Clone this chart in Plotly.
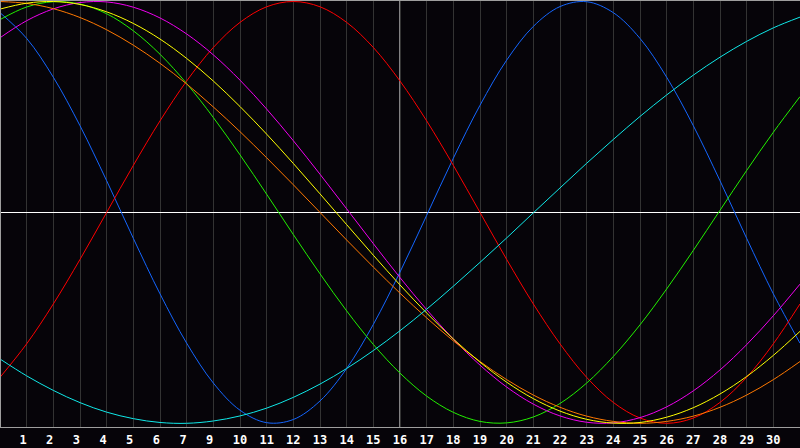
import plotly.graph_objects as go

# day slots across the chart (0..30), one gridline per slot
slots = list(range(31))
tick_slots = list(range(1, 30))
# date labels under the gridlines (the 8th is missing in the original)
day_labels = ["1", "2", "3", "4", "5", "6", "7", "9", "10", "11", "12", "13", "14", "15",
              "16", "17", "18", "19", "20", "21", "22", "23", "24", "25", "26", "27",
              "28", "29", "30"]
today_slot = 15

# cycle values, one per slot
physical = [0.947, 0.825, 0.641, 0.411, 0.150, -0.123, -0.386, -0.620, -0.809, -0.938,
            -0.997, -0.982, -0.894, -0.740, -0.531, -0.283, -0.014, 0.257, 0.508, 0.722,
            0.882, 0.976, 0.999, 0.947, 0.825, 0.641, 0.411, 0.150, -0.123, -0.386, -0.620]
emotional = [-0.782, -0.623, -0.434, -0.223, 0.0, 0.223, 0.434, 0.623, 0.782, 0.901,
             0.975, 1.0, 0.975, 0.901, 0.782, 0.623, 0.434, 0.223, 0.0, -0.223,
             -0.434, -0.623, -0.782, -0.901, -0.975, -1.0, -0.975, -0.901, -0.782, -0.623, -0.434]
intellectual = [0.914, 0.974, 0.999, 0.988, 0.942, 0.861, 0.750, 0.611, 0.450, 0.273,
                0.086, -0.105, -0.291, -0.467, -0.626, -0.762, -0.871, -0.948, -0.991, -0.998,
                -0.970, -0.906, -0.809, -0.683, -0.533, -0.363, -0.180, 0.010, 0.199, 0.380, 0.549]
intuitive = [0.828, 0.909, 0.965, 0.995, 0.998, 0.973, 0.922, 0.846, 0.747, 0.627,
             0.490, 0.340, 0.181, 0.017, -0.148, -0.309, -0.461, -0.601, -0.724, -0.828,
             -0.909, -0.965, -0.995, -0.998, -0.973, -0.922, -0.846, -0.747, -0.627, -0.490, -0.340]
aesthetic = [0.964, 0.992, 1.000, 0.986, 0.951, 0.896, 0.822, 0.730, 0.623, 0.502,
             0.371, 0.232, 0.088, -0.058, -0.203, -0.344, -0.477, -0.600, -0.710, -0.805,
             -0.883, -0.942, -0.981, -0.999, -0.996, -0.971, -0.926, -0.861, -0.778, -0.678, -0.564]
awareness = [1.000, 0.991, 0.966, 0.924, 0.866, 0.793, 0.707, 0.609, 0.500, 0.383,
             0.259, 0.131, 0.000, -0.131, -0.259, -0.383, -0.500, -0.609, -0.707, -0.793,
             -0.866, -0.924, -0.966, -0.991, -1.000, -0.991, -0.966, -0.924, -0.866, -0.793, -0.707]
spiritual = [-0.695, -0.775, -0.844, -0.902, -0.947, -0.978, -0.996, -1.000, -0.989, -0.965,
             -0.928, -0.877, -0.814, -0.740, -0.655, -0.561, -0.459, -0.350, -0.237, -0.121,
             -0.002, 0.116, 0.233, 0.346, 0.455, 0.557, 0.651, 0.736, 0.811, 0.875, 0.926]

series = [
    ("Physical", physical, "#1466ff"),
    ("Emotional", emotional, "#ff0000"),
    ("Intellectual", intellectual, "#22f000"),
    ("Intuitive", intuitive, "#f000f0"),
    ("Awareness", awareness, "#ff7800"),
    ("Aesthetic", aesthetic, "#ffff00"),
    ("Spiritual", spiritual, "#10e8e8"),
]

fig = go.Figure()
for name, vals, col in series:
    fig.add_trace(go.Scatter(x=slots, y=vals, name=name, mode="lines",
                             line=dict(color=col, width=1, shape="spline")))

# single digits sit a little left of their gridline in the original
ticktext = [t + "\u00a0" if len(t) == 1 else t for t in day_labels]

bg = "#060409"
fig.update_layout(
    width=800, height=448,
    margin=dict(l=1, r=0, t=1, b=21),
    paper_bgcolor=bg, plot_bgcolor=bg,
    showlegend=False,
    xaxis=dict(range=[0.0375, 30], tickvals=tick_slots, ticktext=ticktext,
               showgrid=True, gridcolor="#333333", gridwidth=1, zeroline=False,
               showline=True, mirror=True, linecolor="#9e9e9e", linewidth=1,
               ticks="", ticklabelstandoff=2,
               tickfont=dict(family="DejaVu Sans Mono", size=12,
                             color="white", weight="bold")),
    yaxis=dict(range=[-1.0175, 1.0024], showgrid=False, showticklabels=False,
               zeroline=True, zerolinecolor="white", zerolinewidth=1,
               showline=True, linecolor="#9e9e9e", linewidth=1, ticks=""),
    shapes=[dict(type="line", xref="x", yref="paper", x0=today_slot, x1=today_slot,
                 y0=0, y1=1, line=dict(color="white", width=1), layer="between")],
)

# drop the page's default body margin so the figure sits at the window corner
fig.write_html("out.html",
               config={"displayModeBar": False},
               post_script="document.body.style.margin='0';"
                           "document.body.style.background='%s';" % bg)
